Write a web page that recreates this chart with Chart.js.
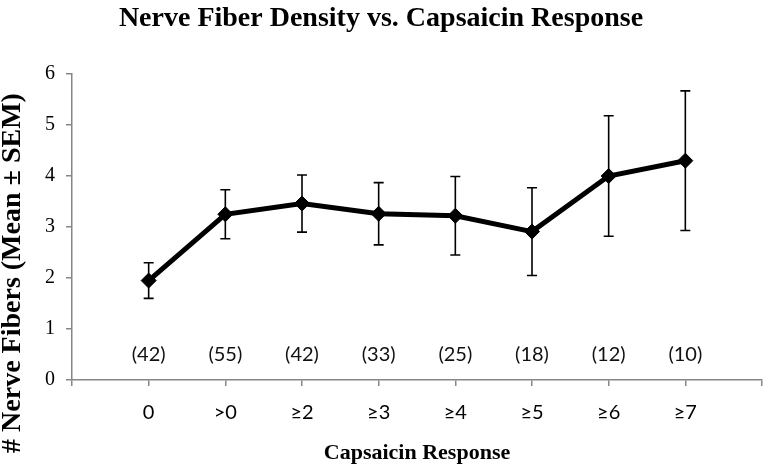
<!DOCTYPE html>
<html>
<head>
<meta charset="utf-8">
<script src="https://cdn.jsdelivr.net/npm/chart.js@4/dist/chart.umd.min.js"></script>
<style>
  html, body { margin: 0; padding: 0; background: #ffffff; }
  #wrap { width: 763px; height: 467px; }
</style>
</head>
<body>
<div id="wrap"><canvas id="c" width="763" height="467"></canvas></div>
<script>
const categories = ['0', '>0', '≥2', '≥3', '≥4', '≥5', '≥6', '≥7'];
const meanValues = [1.95, 3.25, 3.46, 3.26, 3.22, 2.91, 4.00, 4.30];
const semValues = [0.35, 0.48, 0.56, 0.61, 0.77, 0.86, 1.18, 1.37];
const sampleSizes = [42, 55, 42, 33, 25, 18, 12, 10];
const yTicks = [0, 1, 2, 3, 4, 5, 6];

const axisLabels = [''].concat(categories, ['']);
const seriesData = [null].concat(meanValues, [null]);
const errData = [null].concat(semValues, [null]);
const nData = [null].concat(sampleSizes, [null]);

const AXIS_GRAY = '#868686';

const errorBarPlugin = {
  id: 'errorBars',
  beforeDatasetsDraw(chart) {
    const meta = chart.getDatasetMeta(0);
    const y = chart.scales.y;
    const ctx = chart.ctx;
    ctx.save();
    ctx.strokeStyle = '#000';
    ctx.lineWidth = 1.6;
    meta.data.forEach((pt, i) => {
      const m = seriesData[i], e = errData[i];
      if (m == null || e == null) return;
      const x = pt.x;
      const yt = y.getPixelForValue(m + e);
      const yb = y.getPixelForValue(m - e);
      ctx.beginPath();
      ctx.moveTo(x, yt); ctx.lineTo(x, yb);
      ctx.moveTo(x - 5, yt); ctx.lineTo(x + 5, yt);
      ctx.moveTo(x - 5, yb); ctx.lineTo(x + 5, yb);
      ctx.stroke();
    });
    ctx.restore();
  }
};

const nLabelPlugin = {
  id: 'nLabels',
  afterDatasetsDraw(chart) {
    const xs = chart.scales.x, ys = chart.scales.y;
    const ctx = chart.ctx;
    ctx.save();
    ctx.fillStyle = '#111';
    ctx.font = '20px Lato';
    ctx.textAlign = 'center';
    ctx.textBaseline = 'middle';
    nData.forEach((n, i) => {
      if (n == null) return;
      ctx.fillText('(' + n + ')', xs.getPixelForValue(i), ys.getPixelForValue(0.5));
    });
    ctx.restore();
  }
};

const yTitlePlugin = {
  id: 'yTitle',
  afterDraw(chart) {
    const ctx = chart.ctx;
    ctx.save();
    ctx.translate(13, 273);
    ctx.rotate(-Math.PI / 2);
    ctx.fillStyle = '#000';
    ctx.font = 'bold 28px "Liberation Serif"';
    ctx.textAlign = 'center';
    ctx.textBaseline = 'middle';
    ctx.fillText('# Nerve Fibers (Mean ± SEM)', 0, 0);
    ctx.restore();
  }
};

new Chart(document.getElementById('c'), {
  type: 'line',
  data: {
    labels: axisLabels,
    datasets: [{
      data: seriesData,
      borderColor: '#000',
      backgroundColor: '#000',
      borderWidth: 5,
      pointStyle: 'rectRot',
      pointRadius: 7.5,
      pointBorderWidth: 1,
      pointBackgroundColor: '#000',
      pointBorderColor: '#000',
      tension: 0,
      spanGaps: false
    }]
  },
  options: {
    responsive: false,
    animation: false,
    devicePixelRatio: 1,
    layout: { autoPadding: false, padding: { left: 0, right: 1, top: 0, bottom: 0 } },
    plugins: {
      legend: { display: false },
      tooltip: { enabled: false },
      title: {
        display: true,
        text: 'Nerve Fiber Density vs. Capsaicin Response',
        color: '#000',
        font: { family: '"Liberation Serif"', size: 28, weight: 'bold', lineHeight: 1.2 },
        padding: { top: 2, bottom: 38.4 }
      }
    },
    scales: {
      x: {
        type: 'category',
        offset: false,
        border: { display: true, color: AXIS_GRAY, width: 1.5 },
        grid: { display: true, drawOnChartArea: false, drawTicks: true, tickLength: 6, color: AXIS_GRAY, lineWidth: 1.5 },
        ticks: { color: '#000', font: { family: 'Lato', size: 20 }, padding: 15, autoSkip: false, maxRotation: 0 },
        title: {
          display: true,
          text: 'Capsaicin Response',
          color: '#000',
          font: { family: '"Liberation Serif"', size: 22, weight: 'bold', lineHeight: 1.2 },
          padding: { top: 0, bottom: 0 }
        },
        afterFit(scale) { scale.height = 87; scale.paddingRight = 0; scale.paddingLeft = 0; }
      },
      y: {
        min: 0,
        max: 6,
        border: { display: true, color: AXIS_GRAY, width: 1.5 },
        grid: { display: true, drawOnChartArea: false, drawTicks: true, tickLength: 6, color: AXIS_GRAY, lineWidth: 1.5 },
        afterBuildTicks(scale) { scale.ticks = yTicks.map(v => ({ value: v })); },
        ticks: { color: '#000', font: { family: '"Liberation Serif"', size: 20 }, padding: 11 },
        afterFit(scale) { scale.width = 72; scale.paddingTop = 0; scale.paddingBottom = 0; }
      }
    }
  },
  plugins: [errorBarPlugin, nLabelPlugin, yTitlePlugin]
});
</script>
</body>
</html>
